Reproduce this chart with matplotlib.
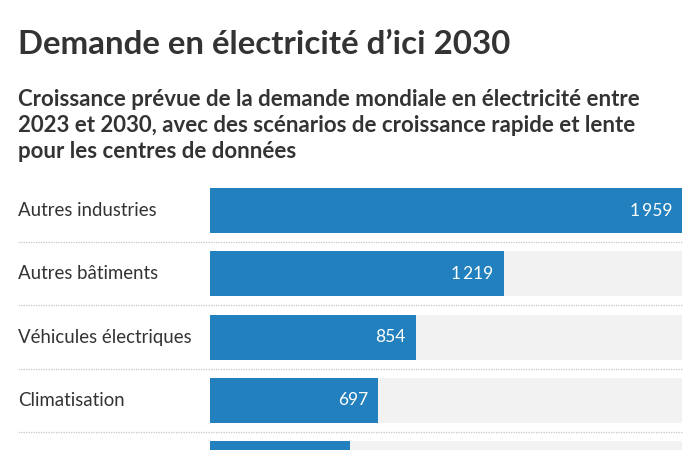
import matplotlib
matplotlib.use("Agg")
import matplotlib.pyplot as plt
import matplotlib.transforms as mtransforms

plt.rcParams['font.family'] = ['Lato', 'DejaVu Sans']

# données (TWh)
categories = ['Autres industries', 'Autres bâtiments', 'Véhicules électriques',
              'Climatisation', 'Centres de données (croissance rapide)']
values = [1959, 1219, 854, 697, 583]
vmax = 1959

BLUE = '#2180bd'
TRACK = '#f2f2f2'
TEXT = '#333333'

fig = plt.figure(figsize=(7, 4.5), dpi=100)
fig.patch.set_facecolor('white')

fig.text(18 / 700, 1 - 45 / 450, "Demande en électricité d’ici 2030",
         fontsize=23.8, fontweight='bold', color=TEXT, va='center', ha='left')
fig.text(18 / 700, 1 - 89 / 450,
         "Croissance prévue de la demande mondiale en électricité entre\n"
         "2023 et 2030, avec des scénarios de croissance rapide et lente\n"
         "pour les centres de données",
         fontsize=16, fontweight='bold', color=TEXT, va='top', ha='left',
         linespacing=1.3)

# axes aligned with bar tracks
left, right = 210 / 700, 682 / 700
top_px = 178
pitch = 63.3
ax = fig.add_axes([left, 0, right - left, (450 - top_px) / 450])
rows_visible = (450 - top_px) / pitch
y_top = -32.5 / pitch
ax.set_ylim(y_top + rows_visible, y_top)
ax.set_xlim(0, vmax)
ax.axis('off')

ypos = list(range(len(categories)))
bh = 45 / pitch
ax.barh(ypos, [vmax] * len(values), height=bh, color=TRACK, clip_on=False)
ax.barh(ypos, values, height=bh, color=BLUE, clip_on=False)

trans = mtransforms.blended_transform_factory(ax.transAxes, ax.transData)
lab_x = (18 - 210) / 472
for y, cat, v in zip(ypos, categories, values):
    ax.plot([lab_x, 1], [y + 0.5, y + 0.5], transform=trans, color='#c4c4c4',
            lw=0.9, ls=(0, (1, 1)), clip_on=False)
    if y + 0.3 > y_top + rows_visible:
        continue  # ligne coupée par le bas de l'image
    ax.text(lab_x, y, cat, transform=trans, fontsize=13.4, color=TEXT,
            ha='left', va='center')
    txt = f"{v:,}".replace(',', '\u2009')
    ax.text(v - vmax * 10 / 472, y, txt, fontsize=12.5, color='white',
            ha='right', va='center')

fig.savefig('out.png', dpi=100)
